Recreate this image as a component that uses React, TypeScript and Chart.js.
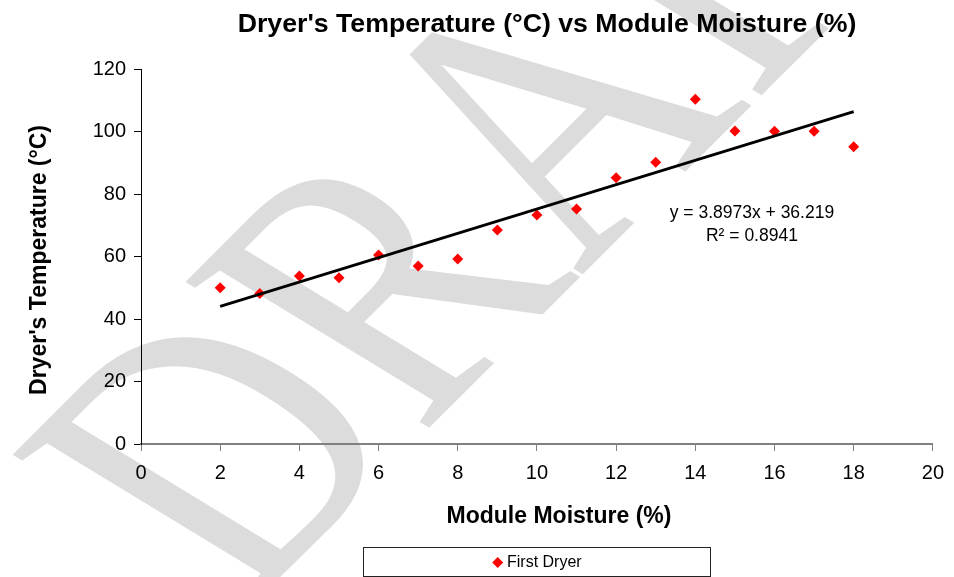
import React, { useEffect, useRef } from "react";
import { Chart, registerables } from "chart.js";

Chart.register(...registerables);

// ---- data ----
const moisture = [2, 3, 4, 5, 6, 7, 8, 9, 10, 11, 12, 13, 14, 15, 16, 17, 18];
const temperature = [50, 48.2, 53.8, 53.2, 60.5, 57, 59.2, 68.5, 73.3, 75.2, 85.2, 90.2, 110.3, 100.2, 100.1, 100.1, 95.1];
const xTickStep = 2;
const xRange = [0, 20];
const yTickStep = 20;
const yRange = [0, 120];
const trendSlope = 3.8973;
const trendIntercept = 36.219;
const rSquared = 0.8941;
const trendLabelAt = [15.43, 74];

const chartTitle = "Dryer's Temperature (°C) vs Module Moisture (%)";
const xTitle = "Module Moisture (%)";
const yTitle = "Dryer's Temperature (°C)";
const seriesName = "First Dryer";
const watermark = "DRAFT";

const SANS = '"Liberation Sans", Arial, sans-serif';
const SERIF = '"Liberation Serif", "Times New Roman", serif';

const decor = {
  id: "decor",
  beforeDraw(chart: any) {
    const ctx: CanvasRenderingContext2D = chart.ctx;
    ctx.save();
    ctx.fillStyle = "#ffffff";
    ctx.fillRect(0, 0, chart.width, chart.height);
    // watermark (skewed, rotated WordArt-like text)
    ctx.save();
    ctx.transform(2.393, -2.393, 3.7, 2.25, 248, 609);
    ctx.font = `100px ${SERIF}`;
    ctx.fillStyle = "#dcdcdc";
    ctx.textBaseline = "alphabetic";
    ctx.textAlign = "left";
    ctx.fillText(watermark, 0, 0);
    ctx.restore();
    // titles
    ctx.fillStyle = "#000";
    ctx.textAlign = "center";
    ctx.textBaseline = "alphabetic";
    ctx.font = `bold 26.7px ${SANS}`;
    ctx.fillText(chartTitle, 547, 32);
    ctx.font = `bold 23px ${SANS}`;
    ctx.fillText(xTitle, 559, 523);
    ctx.save();
    ctx.translate(46, 260);
    ctx.rotate(-Math.PI / 2);
    ctx.fillText(yTitle, 0, 0);
    ctx.restore();
    ctx.restore();
  },
  afterDraw(chart: any) {
    const ctx: CanvasRenderingContext2D = chart.ctx;
    const xs = chart.scales.x;
    const ys = chart.scales.y;
    ctx.save();
    // trendline label
    const cx = xs.getPixelForValue(trendLabelAt[0]);
    const cy = ys.getPixelForValue(trendLabelAt[1]);
    ctx.fillStyle = "#000";
    ctx.font = `17.5px ${SANS}`;
    ctx.textAlign = "center";
    ctx.textBaseline = "middle";
    ctx.fillText(`y = ${trendSlope}x + ${trendIntercept}`, cx, cy);
    ctx.fillText(`R² = ${rSquared}`, cx, cy + 23.5);
    // legend
    ctx.strokeStyle = "#222";
    ctx.lineWidth = 1;
    ctx.strokeRect(363.5, 547.5, 347, 29);
    const mx = 497.7;
    const my = 562.5;
    const r = 5.5;
    ctx.fillStyle = "#ff0000";
    ctx.beginPath();
    ctx.moveTo(mx, my - r);
    ctx.lineTo(mx + r, my);
    ctx.lineTo(mx, my + r);
    ctx.lineTo(mx - r, my);
    ctx.closePath();
    ctx.fill();
    ctx.fillStyle = "#000";
    ctx.font = `16px ${SANS}`;
    ctx.textAlign = "left";
    ctx.fillText(seriesName, 507, my + 0.5);
    ctx.restore();
  },
};

export default function App() {
  const ref = useRef<HTMLCanvasElement>(null);
  useEffect(() => {
    if (!ref.current) return;
    const points = moisture.map((x, i) => ({ x, y: temperature[i] }));
    const x0 = moisture[0];
    const x1 = moisture[moisture.length - 1];
    const trend = [
      { x: x0, y: trendSlope * x0 + trendIntercept },
      { x: x1, y: trendSlope * x1 + trendIntercept },
    ];
    const chart = new Chart(ref.current, {
      type: "scatter",
      data: {
        datasets: [
          {
            label: "Linear (" + seriesName + ")",
            data: trend,
            showLine: true,
            borderColor: "#000",
            borderWidth: 2.8,
            pointRadius: 0,
            order: 0,
          } as any,
          {
            label: seriesName,
            data: points,
            pointStyle: "rectRot",
            pointRadius: 5.5,
            pointBackgroundColor: "#ff0000",
            pointBorderColor: "#ff0000",
            pointBorderWidth: 0,
            showLine: false,
            order: 1,
          } as any,
        ],
      },
      options: {
        animation: false,
        responsive: true,
        maintainAspectRatio: false,
        layout: { padding: { left: 0, right: 16, top: 69, bottom: 0 } },
        plugins: {
          legend: { display: false },
          title: { display: false },
          tooltip: { enabled: false },
        },
        scales: {
          x: {
            type: "linear",
            min: xRange[0],
            max: xRange[1],
            ticks: {
              stepSize: xTickStep,
              color: "#000",
              font: { family: SANS, size: 20 },
              padding: 10,
              maxRotation: 0,
            },
            grid: { drawOnChartArea: false, drawTicks: true, tickLength: 7, color: "#808080", lineWidth: 1 },
            border: { display: true, color: "#808080", width: 2 },
            afterFit: (s: any) => {
              s.height = 133;
            },
          },
          y: {
            type: "linear",
            min: yRange[0],
            max: yRange[1],
            ticks: {
              stepSize: yTickStep,
              color: "#000",
              font: { family: SANS, size: 20 },
              padding: 8,
            },
            grid: { drawOnChartArea: false, drawTicks: true, tickLength: 7, color: "#000", lineWidth: 1 },
            border: { display: true, color: "#000", width: 1 },
            afterFit: (s: any) => {
              s.width = 141;
            },
          },
        },
      },
      plugins: [decor],
    });
    return () => chart.destroy();
  }, []);
  return (
    <div style={{ position: "fixed", left: 0, top: 0, width: 954, height: 577, background: "#fff" }}>
      <canvas ref={ref} />
    </div>
  );
}
